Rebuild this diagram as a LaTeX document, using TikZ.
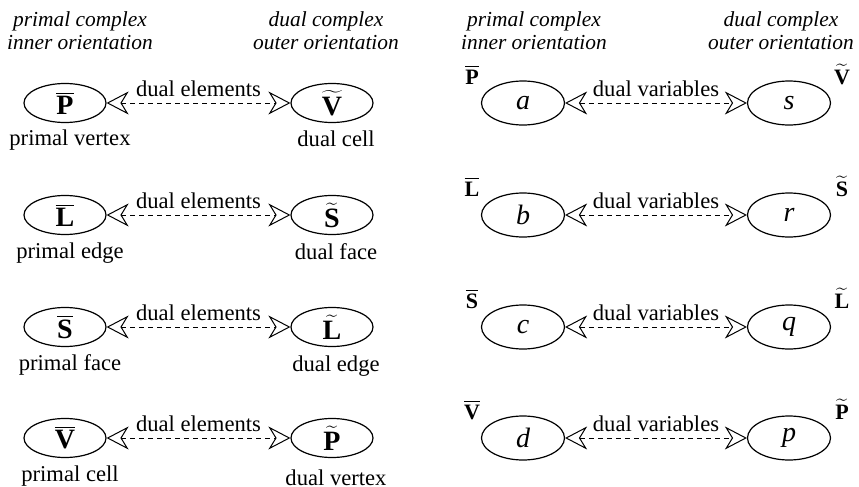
\documentclass[tikz,border=0pt]{standalone}
\usepackage{fontspec}
\setmainfont{Liberation Serif}
\usetikzlibrary{shapes.geometric,arrows.meta}
\begin{document}
\begin{tikzpicture}[x=0.5pt,y=-0.5pt,
  hdr/.style={font=\fontsize{10.7}{12}\selectfont\itshape, anchor=base, inner sep=0pt},
  lbl/.style={font=\fontsize{11.3}{13}\selectfont, anchor=base, inner sep=0pt},
  elem/.style={ellipse, draw, line width=0.6pt, minimum width=41pt, minimum height=19.5pt, inner sep=0pt, font=\fontsize{14}{16}\selectfont\bfseries},
  varnode/.style={ellipse, draw, line width=0.6pt, minimum width=41.5pt, minimum height=22pt, inner sep=0pt, font=\fontsize{14}{16}\selectfont\itshape},
  vartag/.style={font=\fontsize{11}{13}\selectfont\bfseries, anchor=base, inner sep=0pt},
  duo/.style={dash pattern=on 2.5pt off 2pt, line width=0.5pt,
    {Stealth[open,length=11pt,width=11.5pt,inset=3.5pt]}-{Stealth[open,length=11pt,width=11.5pt,inset=3.5pt]}},
  duolbl/.style={font=\fontsize{11.3}{13}\selectfont, midway, above=2pt, inner sep=1pt}
]
\path[use as bounding box] (0,0) rectangle (859,487);

% headers
\node[hdr] (h1) at (80,26) {primal complex};
\node[hdr] (h2) at (80,49) {inner orientation};
\node[hdr] (h3) at (326,26) {dual complex};
\node[hdr] (h4) at (326,49) {outer orientation};
\node[hdr] (h5) at (534,26) {primal complex};
\node[hdr] (h6) at (534,49) {inner orientation};
\node[hdr] (h7) at (781,26) {dual complex};
\node[hdr] (h8) at (781,49) {outer orientation};

\foreach \i/\y/\pa/\da/\pl/\dl/\va/\vb/\dy in {
  1/103/P/V/primal vertex/dual cell/a/s/44,
  2/215/L/S/primal edge/dual face/b/r/44,
  3/327/S/L/primal face/dual edge/c/q/44,
  4/438/V/P/primal cell/dual vertex/d/p/47}{
  % left panel
  \node[elem] (pe\i) at (65,\y) {$\overline{\mbox{\pa}}$};
  \node[elem] (de\i) at (332,\y) {$\widetilde{\mbox{\da}}$};
  \draw[duo] (pe\i) -- (de\i) node[duolbl] {dual elements};
  \node[lbl] (pt\i) at (70,\y+43) {\pl};
  \node[lbl] (dt\i) at (336,\y+\dy) {\dl};
  % right panel
  \node[varnode] (pv\i) at (523,\y) {\va};
  \node[varnode] (dv\i) at (789,\y) {\vb};
  \draw[duo] (pv\i) -- (dv\i) node[duolbl] {dual variables};
  \node[vartag] (ptag\i) at (472,\y-19) {$\overline{\mbox{\pa}}$};
  \node[vartag] (dtag\i) at (842,\y-19) {$\widetilde{\mbox{\da}}$};
}
\end{tikzpicture}
\end{document}
